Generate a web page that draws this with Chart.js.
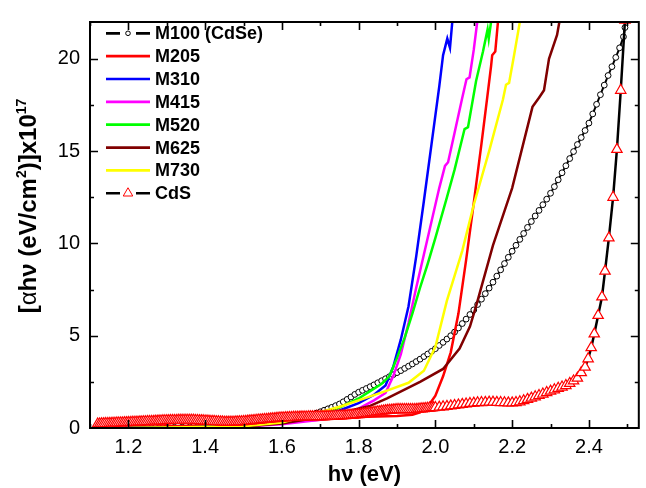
<!DOCTYPE html>
<html>
<head>
<meta charset="utf-8">
<script src="https://cdn.jsdelivr.net/npm/chart.js@4.4.1/dist/chart.umd.min.js"></script>
<style>
  html, body { margin: 0; padding: 0; background: #ffffff; }
  #wrap { width: 646px; height: 488px; position: relative; }
</style>
</head>
<body>
<div id="wrap"><canvas id="chart" width="646" height="488"></canvas></div>
<script>
// Axis ticks (photon energy in eV, (alpha*h*nu)^2 in units of 1e17)
const xMajorTicks = [1.2, 1.4, 1.6, 1.8, 2.0, 2.2, 2.4];
const xMinorTicks = [1.1, 1.3, 1.5, 1.7, 1.9, 2.1, 2.3, 2.5];
const yMajorTicks = [0, 5, 10, 15, 20];
const yMinorTicks = [2.5, 7.5, 12.5, 17.5];

const seriesNames = ['M100 (CdSe)', 'M205', 'M310', 'M415', 'M520', 'M625', 'M730', 'CdS'];

// M100 (CdSe)
const m100Energy = [
  1.20, 1.22, 1.24, 1.26, 1.28, 1.30, 1.32, 1.34, 1.36, 1.38, 1.40, 1.42, 1.44, 1.46, 1.48, 1.50, 1.52, 1.54, 1.56, 1.58, 1.60,
  1.61, 1.62, 1.63, 1.64, 1.65, 1.66, 1.67, 1.68, 1.69, 1.70,
  1.71, 1.72, 1.73, 1.74, 1.75, 1.76, 1.77, 1.78, 1.79, 1.80,
  1.81, 1.82, 1.83, 1.84, 1.85, 1.86, 1.87, 1.88, 1.89, 1.90,
  1.91, 1.92, 1.93, 1.94, 1.95, 1.96, 1.97, 1.98, 1.99, 2.00,
  2.01, 2.02, 2.03, 2.04, 2.05, 2.06, 2.07, 2.08, 2.09, 2.10,
  2.11, 2.12, 2.13, 2.14, 2.15, 2.16, 2.17, 2.18, 2.19, 2.20,
  2.21, 2.22, 2.23, 2.24, 2.25, 2.26, 2.27, 2.28, 2.29, 2.30,
  2.31, 2.32, 2.33, 2.34, 2.35, 2.36, 2.37, 2.38, 2.39, 2.40,
  2.41, 2.42, 2.43, 2.44, 2.45, 2.46, 2.47, 2.48, 2.49, 2.494
];
const m100Values = [
  0.00, 0.01, 0.01, 0.02, 0.02, 0.03, 0.04, 0.05, 0.06, 0.07, 0.08, 0.10, 0.12, 0.14, 0.16, 0.18, 0.21, 0.25, 0.29, 0.34, 0.40,
  0.43, 0.47, 0.50, 0.54, 0.58, 0.63, 0.69, 0.75, 0.81, 0.88,
  0.96, 1.04, 1.12, 1.21, 1.30, 1.42, 1.55, 1.68, 1.82, 1.94,
  2.04, 2.14, 2.24, 2.34, 2.45, 2.56, 2.67, 2.78, 2.89, 3.00,
  3.11, 3.23, 3.35, 3.47, 3.60, 3.73, 3.87, 4.01, 4.15, 4.30,
  4.47, 4.64, 4.82, 5.00, 5.20, 5.42, 5.66, 5.90, 6.15, 6.40,
  6.69, 6.98, 7.28, 7.58, 7.90, 8.23, 8.57, 8.91, 9.25, 9.58,
  9.90, 10.22, 10.54, 10.87, 11.19, 11.49, 11.79, 12.10, 12.40, 12.72,
  13.08, 13.45, 13.83, 14.21, 14.60, 14.98, 15.36, 15.74, 16.12, 16.52,
  17.02, 17.54, 18.06, 18.58, 19.10, 19.58, 20.08, 20.60, 21.20, 21.70
];

// M205
const m205Energy = [1.20, 1.30, 1.40, 1.50, 1.60, 1.70, 1.80, 1.90, 1.94, 1.96, 1.98, 2.00, 2.02, 2.04, 2.06, 2.08, 2.10, 2.12, 2.135, 2.145, 2.148, 2.156, 2.163, 2.17];
const m205Values = [0.05, 0.10, 0.15, 0.22, 0.32, 0.45, 0.60, 0.65, 0.72, 0.85, 1.15, 1.75, 2.80, 4.10, 6.20, 9.10, 12.20, 15.40, 17.90, 19.60, 20.20, 20.40, 22.00, 23.40];

// M310
const m310Energy = [1.20, 1.30, 1.40, 1.50, 1.60, 1.70, 1.75, 1.80, 1.84, 1.87, 1.89, 1.91, 1.93, 1.95, 1.97, 1.99, 2.01, 2.02, 2.031, 2.038, 2.044, 2.05];
const m310Values = [0.00, 0.02, 0.05, 0.12, 0.30, 0.65, 0.95, 1.35, 1.80, 2.30, 3.30, 4.80, 6.60, 9.30, 12.30, 15.40, 18.50, 20.20, 21.10, 20.60, 22.00, 23.30];

// M415
const m415Energy = [1.20, 1.40, 1.50, 1.60, 1.70, 1.75, 1.80, 1.84, 1.87, 1.89, 1.91, 1.93, 1.95, 1.97, 1.99, 2.01, 2.025, 2.033, 2.05, 2.07, 2.081, 2.089, 2.10, 2.109, 2.115];
const m415Values = [0.00, 0.03, 0.08, 0.20, 0.45, 0.70, 1.05, 1.50, 1.90, 2.80, 4.00, 5.70, 7.60, 9.40, 11.20, 13.00, 14.20, 14.40, 16.00, 17.90, 18.90, 19.00, 20.50, 22.00, 23.00];

// M520
const m520Energy = [1.20, 1.40, 1.50, 1.60, 1.70, 1.75, 1.80, 1.83, 1.86, 1.88, 1.90, 1.92, 1.94, 1.96, 1.98, 2.00, 2.03, 2.05, 2.076, 2.085, 2.106, 2.124, 2.136, 2.139, 2.145, 2.15];
const m520Values = [0.00, 0.05, 0.12, 0.30, 0.75, 1.10, 1.60, 2.00, 2.40, 2.80, 3.80, 4.90, 6.20, 7.60, 8.90, 10.30, 12.50, 14.00, 16.20, 16.30, 18.80, 20.40, 21.60, 21.10, 22.00, 23.00];

// M625
const m625Energy = [1.20, 1.40, 1.50, 1.60, 1.70, 1.79, 1.83, 1.874, 1.96, 2.02, 2.063, 2.09, 2.106, 2.15, 2.20, 2.253, 2.27, 2.283, 2.296, 2.317, 2.323, 2.33];
const m625Values = [0.00, 0.03, 0.08, 0.25, 0.58, 1.00, 1.20, 1.60, 2.50, 3.20, 4.30, 5.50, 6.60, 9.90, 13.00, 17.40, 17.90, 18.30, 20.00, 21.30, 22.00, 23.20];

// M730
const m730Energy = [1.20, 1.40, 1.50, 1.60, 1.70, 1.75, 1.80, 1.87, 1.93, 1.97, 2.00, 2.03, 2.07, 2.10, 2.14, 2.176, 2.184, 2.192, 2.205, 2.22, 2.225];
const m730Values = [0.00, 0.05, 0.10, 0.30, 0.85, 1.15, 1.50, 2.00, 2.45, 3.10, 4.40, 6.90, 9.60, 12.10, 15.00, 17.80, 18.60, 18.70, 20.20, 22.00, 22.60];

// CdS (denser sampling at low energy, as measured on a wavelength grid)
const cdsEnergy = [
  1.120, 1.125, 1.130, 1.135, 1.140, 1.145, 1.150, 1.155, 1.160, 1.165, 1.170, 1.175, 1.180, 1.185, 1.190, 1.195, 1.200,
  1.205, 1.210, 1.215, 1.220, 1.225, 1.230, 1.235, 1.240, 1.245, 1.250, 1.255, 1.260, 1.265, 1.270, 1.275, 1.280, 1.285, 1.290, 1.295, 1.300,
  1.305, 1.310, 1.315, 1.320, 1.325, 1.330, 1.335, 1.340, 1.345, 1.350, 1.355, 1.360, 1.365, 1.370, 1.375, 1.380, 1.385, 1.390, 1.395, 1.400,
  1.405, 1.410, 1.415, 1.420, 1.425, 1.430, 1.435, 1.440, 1.445, 1.450, 1.455, 1.460, 1.465, 1.470, 1.475, 1.480, 1.485, 1.490, 1.495, 1.500,
  1.505, 1.510, 1.515, 1.520, 1.525, 1.530, 1.535, 1.540, 1.545, 1.550, 1.555, 1.560, 1.565, 1.570, 1.575, 1.580, 1.585, 1.590, 1.595, 1.600,
  1.605, 1.610, 1.615, 1.620, 1.625, 1.630, 1.635, 1.640, 1.645, 1.650, 1.655, 1.660, 1.665, 1.670, 1.675, 1.680, 1.685, 1.690, 1.695, 1.700,
  1.705, 1.710, 1.715, 1.720, 1.725, 1.730, 1.735, 1.740, 1.745, 1.750, 1.755, 1.760, 1.765, 1.770, 1.775, 1.780, 1.785, 1.790, 1.795, 1.800,
  1.805, 1.810, 1.815, 1.820, 1.825, 1.830, 1.835, 1.840, 1.845, 1.850, 1.855, 1.860, 1.865, 1.870, 1.875, 1.880, 1.885, 1.890, 1.895, 1.900,
  1.905, 1.910, 1.915, 1.920, 1.925, 1.930, 1.935, 1.940, 1.945, 1.950, 1.955, 1.960, 1.965, 1.970, 1.975, 1.980, 1.985, 1.990, 1.995, 2.000,
  2.01, 2.02, 2.03, 2.04, 2.05, 2.06, 2.07, 2.08, 2.09, 2.10,
  2.11, 2.12, 2.13, 2.14, 2.15, 2.16, 2.17, 2.18, 2.19, 2.20,
  2.21, 2.22, 2.23, 2.24, 2.25, 2.26, 2.27, 2.28, 2.29, 2.30,
  2.31, 2.32, 2.33, 2.34, 2.35, 2.36, 2.37, 2.38, 2.39,
  2.398, 2.406, 2.414, 2.424, 2.434, 2.442, 2.452, 2.463, 2.473, 2.483, 2.494
];
const cdsValues = [
  0.22, 0.22, 0.23, 0.23, 0.24, 0.24, 0.25, 0.25, 0.26, 0.26, 0.27, 0.27, 0.28, 0.28, 0.29, 0.29, 0.30,
  0.30, 0.31, 0.31, 0.32, 0.32, 0.33, 0.33, 0.34, 0.34, 0.35, 0.35, 0.36, 0.36, 0.37, 0.37, 0.38, 0.38, 0.39, 0.39, 0.40,
  0.40, 0.41, 0.41, 0.41, 0.41, 0.42, 0.42, 0.42, 0.42, 0.42, 0.42, 0.42, 0.42, 0.42, 0.41, 0.41, 0.40, 0.40, 0.39, 0.38,
  0.38, 0.37, 0.36, 0.36, 0.35, 0.34, 0.34, 0.33, 0.33, 0.32, 0.32, 0.32, 0.32, 0.32, 0.32, 0.33, 0.33, 0.34, 0.34, 0.35,
  0.36, 0.37, 0.38, 0.39, 0.40, 0.41, 0.42, 0.43, 0.44, 0.45, 0.46, 0.47, 0.48, 0.49, 0.50, 0.51, 0.52, 0.53, 0.54, 0.55,
  0.55, 0.56, 0.56, 0.57, 0.57, 0.58, 0.58, 0.59, 0.59, 0.60, 0.60, 0.60, 0.60, 0.61, 0.61, 0.61, 0.61, 0.62, 0.62, 0.62,
  0.62, 0.62, 0.63, 0.63, 0.63, 0.64, 0.64, 0.65, 0.65, 0.66, 0.66, 0.67, 0.67, 0.68, 0.69, 0.70, 0.70, 0.71, 0.72, 0.73,
  0.74, 0.76, 0.77, 0.79, 0.80, 0.82, 0.83, 0.85, 0.86, 0.88, 0.89, 0.91, 0.92, 0.94, 0.95, 0.96, 0.97, 0.98, 0.99, 1.00,
  1.00, 1.00, 1.00, 1.00, 1.00, 1.00, 1.00, 1.00, 1.00, 1.01, 1.02, 1.03, 1.04, 1.05, 1.06, 1.07, 1.08, 1.09, 1.10, 1.11,
  1.13, 1.15, 1.17, 1.20, 1.22, 1.25, 1.28, 1.30, 1.33, 1.35,
  1.37, 1.38, 1.39, 1.40, 1.40, 1.39, 1.38, 1.37, 1.36, 1.36,
  1.38, 1.42, 1.48, 1.55, 1.62, 1.69, 1.76, 1.84, 1.92, 2.00,
  2.07, 2.15, 2.22, 2.30, 2.42, 2.55, 2.70, 3.00, 3.30,
  3.75, 4.35, 5.10, 6.10, 7.10, 8.50, 10.30, 12.50, 15.10, 18.30, 22.10
];

const FONT = "'Liberation Sans', Arial, Helvetica, sans-serif";

function pairs(xs, ys) {
  return xs.map((x, i) => ({ x: x, y: ys[i] }));
}

function lineSet(label, xs, ys, color, order) {
  return {
    label: label,
    data: pairs(xs, ys),
    showLine: true,
    borderColor: color,
    backgroundColor: color,
    borderWidth: 2.5,
    pointRadius: 0,
    tension: 0,
    order: order
  };
}

const datasets = [
  {
    label: seriesNames[0],
    data: pairs(m100Energy, m100Values),
    showLine: true,
    borderColor: '#000000',
    borderWidth: 2,
    pointStyle: 'circle',
    pointRadius: 2.9,
    pointBorderWidth: 1,
    pointBorderColor: '#000000',
    pointBackgroundColor: '#ffffff',
    tension: 0,
    order: 7
  },
  lineSet(seriesNames[1], m205Energy, m205Values, '#ff0000', 6),
  lineSet(seriesNames[2], m310Energy, m310Values, '#0000ff', 5),
  lineSet(seriesNames[3], m415Energy, m415Values, '#ff00ff', 4),
  lineSet(seriesNames[4], m520Energy, m520Values, '#00ff00', 3),
  lineSet(seriesNames[5], m625Energy, m625Values, '#800000', 2),
  lineSet(seriesNames[6], m730Energy, m730Values, '#ffff00', 1),
  {
    label: seriesNames[7],
    data: pairs(cdsEnergy, cdsValues),
    showLine: true,
    borderColor: '#000000',
    borderWidth: 2.5,
    pointStyle: 'triangle',
    pointRadius: 6,
    pointBorderWidth: 1.2,
    pointBorderColor: '#ff0000',
    pointBackgroundColor: '#ffffff',
    tension: 0,
    order: 0
  }
];

// Frame with inward major/minor ticks on all four sides
const framePlugin = {
  id: 'frame',
  afterDatasetsDraw(chart) {
    const ctx = chart.ctx;
    const a = chart.chartArea;
    const xs = chart.scales.x, ys = chart.scales.y;
    ctx.save();
    ctx.strokeStyle = '#000000';
    ctx.lineWidth = 1.6;
    const major = 8, minor = 4;
    ctx.beginPath();
    const xt = [].concat(xMajorTicks.map(v => [v, major]), xMinorTicks.map(v => [v, minor]));
    xt.forEach(([v, len]) => {
      const px = Math.round(xs.getPixelForValue(v)) + 0.5;
      if (px < a.left || px > a.right) return;
      ctx.moveTo(px, a.bottom); ctx.lineTo(px, a.bottom - len);
      ctx.moveTo(px, a.top); ctx.lineTo(px, a.top + len);
    });
    const yt = [].concat(yMajorTicks.map(v => [v, major]), yMinorTicks.map(v => [v, minor]));
    yt.forEach(([v, len]) => {
      const py = Math.round(ys.getPixelForValue(v)) + 0.5;
      if (py < a.top || py > a.bottom) return;
      ctx.moveTo(a.left, py); ctx.lineTo(a.left + len, py);
      ctx.moveTo(a.right, py); ctx.lineTo(a.right - len, py);
    });
    ctx.stroke();
    ctx.lineWidth = 2;
    ctx.strokeRect(a.left, a.top, a.right - a.left, a.bottom - a.top);
    ctx.restore();
  }
};

// Draws a run of text pieces (mixed weights, superscripts) centred on cx
function drawPieces(ctx, pieces, cx, baseY) {
  let total = 0;
  pieces.forEach(p => { ctx.font = p.font; total += ctx.measureText(p.t).width; });
  let x = cx - total / 2;
  pieces.forEach(p => {
    ctx.font = p.font;
    ctx.fillText(p.t, x, baseY + (p.dy || 0));
    x += ctx.measureText(p.t).width;
  });
}

const titlesPlugin = {
  id: 'titles',
  afterDraw(chart) {
    const ctx = chart.ctx;
    const a = chart.chartArea;
    ctx.save();
    ctx.fillStyle = '#000000';
    ctx.textBaseline = 'alphabetic';
    ctx.textAlign = 'left';
    // x-axis title
    drawPieces(ctx, [
      { t: 'h\u03bd (eV)', font: 'bold 22px ' + FONT }
    ], (a.left + a.right) / 2, 481);
    // y-axis title, rotated
    const B = 'bold 24px ' + FONT, N = '24px ' + FONT, S = 'bold 14px ' + FONT;
    ctx.translate(27, 206);
    ctx.rotate(-Math.PI / 2);
    drawPieces(ctx, [
      { t: '[', font: B },
      { t: '\u03b1', font: N },
      { t: 'h\u03bd (eV/cm', font: B },
      { t: '2', font: S, dy: -10 },
      { t: ')]x10', font: B },
      { t: '17', font: S, dy: -10 }
    ], 0, 9);
    ctx.restore();
  }
};

// Legend inside the plot, upper left
const legendPlugin = {
  id: 'sampleLegend',
  afterDraw(chart) {
    const ctx = chart.ctx;
    ctx.save();
    const x0 = 106, x1 = 150, tx = 155;
    const y0 = 33.3, dy = 22.85;
    datasets.forEach((ds, i) => {
      const y = y0 + i * dy;
      ctx.lineWidth = 2.7;
      ctx.strokeStyle = ds.borderColor;
      ctx.beginPath();
      if (ds.pointStyle === 'circle' || ds.pointStyle === 'triangle') {
        ctx.moveTo(x0, y); ctx.lineTo(x0 + 14, y);
        ctx.moveTo(x1 - 14, y); ctx.lineTo(x1, y);
        ctx.stroke();
        ctx.lineWidth = 1;
        ctx.fillStyle = '#ffffff';
        ctx.strokeStyle = ds.pointBorderColor;
        const cx = (x0 + x1) / 2;
        ctx.beginPath();
        if (ds.pointStyle === 'circle') {
          ctx.arc(cx, y, 2.3, 0, Math.PI * 2);
        } else {
          const r = 5.5;
          ctx.moveTo(cx, y - r);
          ctx.lineTo(cx + r * Math.sin(2 * Math.PI / 3), y - r * Math.cos(2 * Math.PI / 3));
          ctx.lineTo(cx + r * Math.sin(4 * Math.PI / 3), y - r * Math.cos(4 * Math.PI / 3));
          ctx.closePath();
        }
        ctx.fill();
        ctx.stroke();
      } else {
        ctx.moveTo(x0, y); ctx.lineTo(x1, y);
        ctx.stroke();
      }
      ctx.fillStyle = '#000000';
      ctx.font = 'bold 18px ' + FONT;
      ctx.textBaseline = 'middle';
      ctx.textAlign = 'left';
      ctx.fillText(ds.label, tx, y + 1);
    });
    ctx.restore();
  }
};

new Chart(document.getElementById('chart'), {
  type: 'scatter',
  data: { datasets: datasets },
  options: {
    responsive: false,
    animation: false,
    events: [],
    layout: { padding: { left: 0, right: 2, top: 13, bottom: 0 } },
    plugins: {
      legend: { display: false },
      tooltip: { enabled: false }
    },
    scales: {
      x: {
        type: 'linear',
        min: 1.1,
        max: 2.53,
        grid: { display: false, drawTicks: false },
        border: { display: false },
        afterBuildTicks: s => { s.ticks = xMajorTicks.map(v => ({ value: v })); },
        afterFit: s => { s.height = 60; },
        ticks: {
          padding: 7.5,
          color: '#000000',
          font: { family: FONT, size: 20 },
          maxRotation: 0,
          callback: v => Number(v).toFixed(1)
        }
      },
      y: {
        type: 'linear',
        min: 0,
        max: 22,
        grid: { display: false, drawTicks: false },
        border: { display: false },
        afterBuildTicks: s => { s.ticks = yMajorTicks.map(v => ({ value: v })); },
        afterFit: s => { s.width = 90; },
        ticks: {
          padding: 10,
          color: '#000000',
          font: { family: FONT, size: 20 },
          callback: v => String(v)
        }
      }
    }
  },
  plugins: [framePlugin, titlesPlugin, legendPlugin]
});
</script>
</body>
</html>
